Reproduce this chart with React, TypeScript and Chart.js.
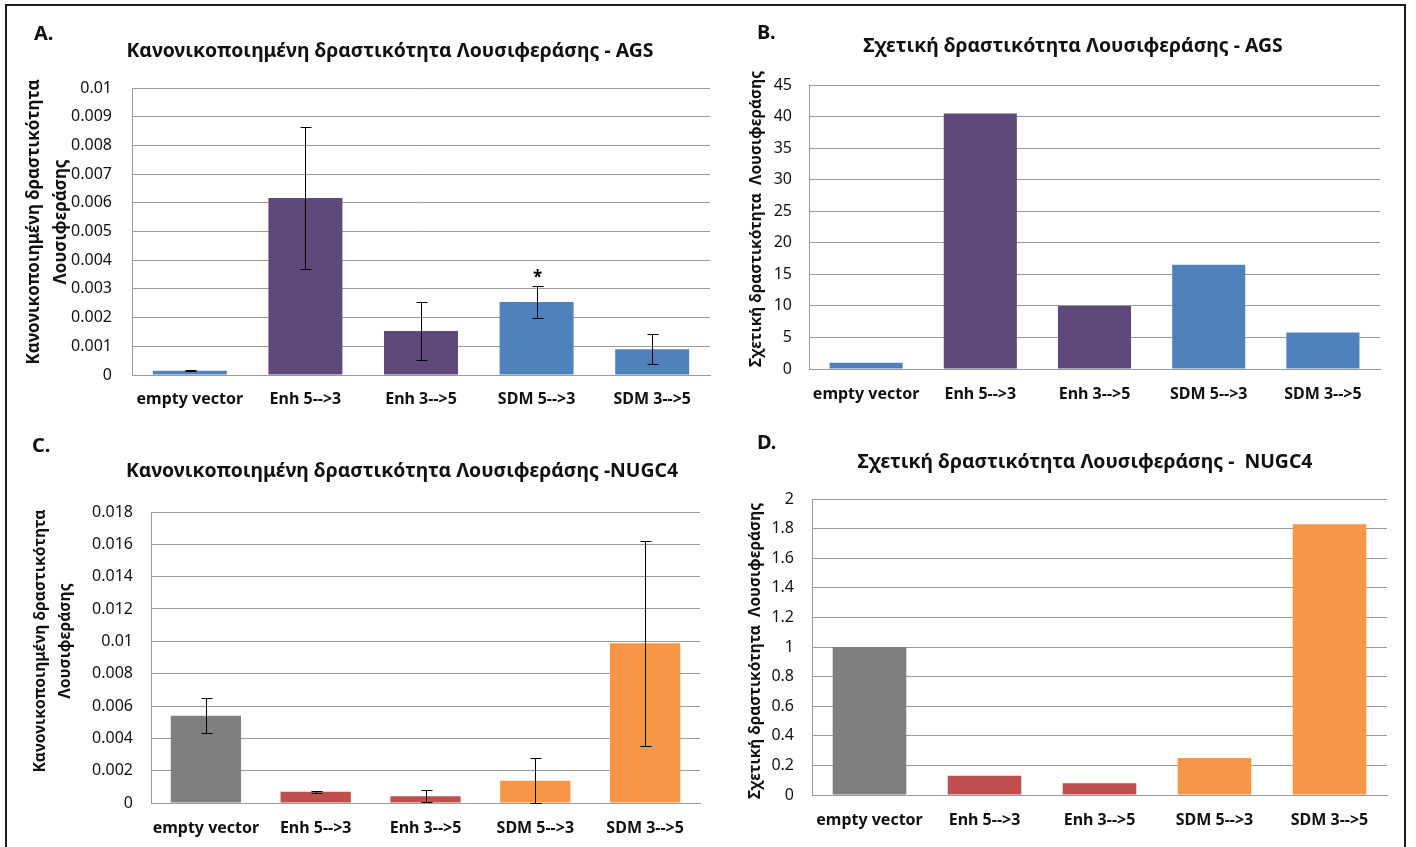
import React, { useEffect, useRef } from 'react';
import { Chart, registerables } from 'chart.js';

Chart.register(...registerables);

const FONT = "'Noto Sans', 'Open Sans', 'Liberation Sans', sans-serif";

// ---- data ----
const categories = ['empty vector', 'Enh 5-->3', 'Enh 3-->5', 'SDM 5-->3', 'SDM 3-->5'];

const agsNormValues = [0.00015, 0.00617, 0.00153, 0.00254, 0.0009];
const agsNormErrors = [0.00002, 0.00248, 0.001, 0.00055, 0.00053];
const agsNormMarks = ['', '', '', '*', ''];

const agsRelValues = [1, 40.5, 10, 16.5, 5.8];

const nugcNormValues = [0.0054, 0.0007, 0.00042, 0.00138, 0.00988];
const nugcNormErrors = [0.00107, 0.00007, 0.00037, 0.0014, 0.00635];

const nugcRelValues = [1, 0.13, 0.08, 0.25, 1.83];

const agsColors = ['#4F81BD', '#5F497A', '#5F497A', '#4F81BD', '#4F81BD'];
const nugcColors = ['#7F7F7F', '#C0504D', '#C0504D', '#F79646', '#F79646'];

const agsNormAxis = { max: 0.01, step: 0.001 };
const agsRelAxis = { max: 45, step: 5 };
const nugcNormAxis = { max: 0.018, step: 0.002 };
const nugcRelAxis = { max: 2, step: 0.2 };

const titleNormAgs = 'Κανονικοποιημένη δραστικότητα Λουσιφεράσης - AGS';
const titleRelAgs = 'Σχετική δραστικότητα Λουσιφεράσης - AGS';
const titleNormNugc = 'Κανονικοποιημένη δραστικότητα Λουσιφεράσης -NUGC4';
const titleRelNugc = 'Σχετική δραστικότητα Λουσιφεράσης -  NUGC4';
const yTitleNorm = ['Κανονικοποιημένη δραστικότητα', 'Λουσιφεράσης'];
const yTitleRel = ['Σχετική δραστικότητα  Λουσιφεράσης'];

// ---- error bar / marker plugin ----
const errorBarPlugin = {
  id: 'errorBars',
  afterDatasetsDraw(chart: any, _args: any, opts: any) {
    const errs: number[] | undefined = opts && opts.errors;
    const marks: string[] | undefined = opts && opts.marks;
    const meta = chart.getDatasetMeta(0);
    const ys = chart.scales.y;
    const ctx = chart.ctx;
    const data = chart.data.datasets[0].data as number[];
    ctx.save();
    ctx.strokeStyle = '#000';
    ctx.lineWidth = 1;
    meta.data.forEach((bar: any, i: number) => {
      const v = data[i];
      const e = errs ? errs[i] : 0;
      const x = Math.round(bar.x) + 0.5;
      const yt = Math.round(ys.getPixelForValue(v + e)) + 0.5;
      const yb = Math.round(ys.getPixelForValue(Math.max(0, v - e))) + 0.5;
      if (errs) {
        ctx.beginPath();
        ctx.moveTo(x, yt);
        ctx.lineTo(x, yb);
        ctx.moveTo(x - 5, yt);
        ctx.lineTo(x + 6, yt);
        ctx.moveTo(x - 5, yb);
        ctx.lineTo(x + 6, yb);
        ctx.stroke();
      }
      if (marks && marks[i]) {
        ctx.fillStyle = '#000';
        ctx.font = `bold 17px ${FONT}`;
        ctx.textAlign = 'center';
        ctx.textBaseline = 'middle';
        ctx.fillText(marks[i], x, yt - 8);
      }
    });
    ctx.restore();
  },
};

// ---- vertical axis title plugin (rotated, multi-line) ----
const yTitlePlugin = {
  id: 'yTitleText',
  afterDraw(chart: any, _args: any, opts: any) {
    if (!opts || !opts.lines) return;
    const ctx = chart.ctx;
    ctx.save();
    ctx.translate(opts.x, opts.y);
    ctx.rotate(-Math.PI / 2);
    ctx.fillStyle = '#111';
    ctx.font = `bold ${opts.size}px ${FONT}`;
    ctx.textAlign = 'center';
    ctx.textBaseline = 'middle';
    (opts.lines as string[]).forEach((l, i) => ctx.fillText(l, 0, i * opts.lineHeight));
    ctx.restore();
  },
};

type PanelDef = {
  left: number;
  top: number;
  width: number;
  height: number;
  values: number[];
  errors?: number[];
  marks?: string[];
  colors: string[];
  axis: { max: number; step: number };
  yTitle: string[];
  yTitleSize: number;
  yTitleLine: number;
  yTitleX: number;
  yTitleY: number;
  yAxisWidth: number;
  yTickPad: number;
  padTop: number;
  padRight: number;
  xAxisHeight: number;
  xTickPad: number;
};

const panels: PanelDef[] = [
  {
    left: 10, top: 20, width: 705, height: 400,
    values: agsNormValues, errors: agsNormErrors, marks: agsNormMarks, colors: agsColors,
    axis: agsNormAxis, yTitle: yTitleNorm, yTitleSize: 17, yTitleLine: 27, yTitleX: 24, yTitleY: 202,
    yAxisWidth: 122, yTickPad: 20, padTop: 68, padRight: 5, xAxisHeight: 45, xTickPad: 14.4,
  },
  {
    left: 715, top: 20, width: 690, height: 400,
    values: agsRelValues, colors: agsColors,
    axis: agsRelAxis, yTitle: yTitleRel, yTitleSize: 15.5, yTitleLine: 19, yTitleX: 42, yTitleY: 199,
    yAxisWidth: 94, yTickPad: 17, padTop: 65, padRight: 25, xAxisHeight: 51, xTickPad: 15.4,
  },
  {
    left: 10, top: 430, width: 705, height: 417,
    values: nugcNormValues, errors: nugcNormErrors, colors: nugcColors,
    axis: nugcNormAxis, yTitle: yTitleNorm, yTitleSize: 15.7, yTitleLine: 25, yTitleX: 31, yTitleY: 211,
    yAxisWidth: 141, yTickPad: 18, padTop: 82, padRight: 15, xAxisHeight: 44, xTickPad: 15.4,
  },
  {
    left: 715, top: 430, width: 690, height: 417,
    values: nugcRelValues, colors: nugcColors,
    axis: nugcRelAxis, yTitle: yTitleRel, yTitleSize: 15.5, yTitleLine: 19, yTitleX: 41, yTitleY: 221,
    yAxisWidth: 97, yTickPad: 18, padTop: 69, padRight: 18, xAxisHeight: 52, xTickPad: 15.4,
  },
];

const headings = [
  { letter: 'A.', lx: 34, ly: 33, title: titleNormAgs, tx: 390, ty: 50 },
  { letter: 'B.', lx: 757, ly: 32, title: titleRelAgs, tx: 1073, ty: 45 },
  { letter: 'C.', lx: 32, ly: 445, title: titleNormNugc, tx: 402, ty: 470 },
  { letter: 'D.', lx: 757, ly: 442, title: titleRelNugc, tx: 1085, ty: 461 },
];

const GRID = '#9a9a9a';

function BarPanel({ p }: { p: PanelDef }) {
  const ref = useRef<HTMLCanvasElement | null>(null);
  useEffect(() => {
    if (!ref.current) return;
    const chart = new Chart(ref.current, {
      type: 'bar',
      data: {
        labels: categories,
        datasets: [
          {
            data: p.values,
            backgroundColor: p.colors,
            borderWidth: 0,
            barPercentage: 0.64,
            categoryPercentage: 1,
          },
        ],
      },
      options: {
        responsive: false,
        maintainAspectRatio: false,
        animation: false,
        layout: { padding: { top: p.padTop, right: p.padRight, left: 0, bottom: 0 } },
        plugins: {
          legend: { display: false },
          title: { display: false },
          tooltip: { enabled: false },
          // @ts-ignore
          errorBars: { errors: p.errors, marks: p.marks },
          // @ts-ignore
          yTitleText: {
            lines: p.yTitle,
            size: p.yTitleSize,
            lineHeight: p.yTitleLine,
            x: p.yTitleX,
            y: p.yTitleY,
          },
        },
        scales: {
          x: {
            grid: { display: false, drawTicks: false },
            border: { display: true, color: GRID, width: 1 },
            ticks: {
              color: '#111',
              padding: p.xTickPad,
              maxRotation: 0,
              autoSkip: false,
              font: { family: FONT, size: 16, weight: 'bold' },
            },
            afterFit: (s: any) => {
              s.height = p.xAxisHeight;
            },
          },
          y: {
            min: 0,
            max: p.axis.max,
            grid: { color: GRID, lineWidth: 1, drawTicks: false },
            border: { display: true, color: GRID, width: 1 },
            ticks: {
              stepSize: p.axis.step,
              color: '#111',
              padding: p.yTickPad,
              font: { family: FONT, size: 16 },
              callback: (v: any) => String(Number(Number(v).toFixed(6))),
            },
            title: { display: false },
            afterFit: (s: any) => {
              s.width = p.yAxisWidth;
            },
          },
        },
      },
      plugins: [errorBarPlugin, yTitlePlugin],
    } as any);
    return () => chart.destroy();
  }, [p]);
  return (
    <canvas
      ref={ref}
      width={p.width}
      height={p.height}
      style={{ position: 'absolute', left: p.left, top: p.top, width: p.width, height: p.height }}
    />
  );
}

export default function App() {
  return (
    <div
      style={{
        position: 'absolute',
        left: 0,
        top: 0,
        width: 1416,
        height: 847,
        overflow: 'hidden',
        background: '#fff',
        fontFamily: FONT,
      }}
    >
      <div
        style={{
          position: 'absolute',
          left: 5,
          top: 4,
          width: 1401,
          height: 900,
          border: '2px solid #231a1a',
          boxSizing: 'border-box',
        }}
      />
      {panels.map((p, i) => (
        <BarPanel key={i} p={p} />
      ))}
      {headings.map((h, i) => (
        <React.Fragment key={i}>
          <div
            style={{
              position: 'absolute',
              left: h.lx,
              top: h.ly,
              transform: 'translateY(-50%)',
              fontSize: 20,
              fontWeight: 'bold',
              color: '#111',
              whiteSpace: 'pre',
              lineHeight: 1,
            }}
          >
            {h.letter}
          </div>
          <div
            style={{
              position: 'absolute',
              left: h.tx,
              top: h.ty,
              transform: 'translate(-50%, -50%)',
              fontSize: 19.4,
              fontWeight: 'bold',
              color: '#111',
              whiteSpace: 'pre',
              lineHeight: 1,
            }}
          >
            {h.title}
          </div>
        </React.Fragment>
      ))}
    </div>
  );
}
